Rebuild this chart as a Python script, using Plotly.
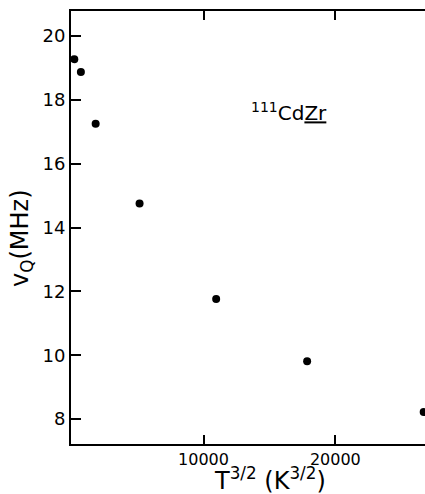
import plotly.graph_objects as go

# Data
t32 = [200, 700, 1820, 5150, 10960, 17860, 26700]          # T^{3/2} (K^{3/2})
nuQ = [19.27, 18.87, 17.25, 14.75, 11.76, 9.81, 8.22]      # nu_Q (MHz)

x_ticks = [10000, 20000]
x_tick_labels = ["10000", "20000"]
y_ticks = [8, 10, 12, 14, 16, 18, 20]
y_tick_labels = ["8", "10", "12", "14", "16", "18", "20"]

FONT = "DejaVu Sans, Arial, sans-serif"

fig = go.Figure()
fig.add_trace(go.Scatter(
    x=t32, y=nuQ, mode="markers",
    marker=dict(color="black", size=8, line=dict(width=0)),
    showlegend=False,
))

fig.add_annotation(
    x=0.616, y=0.767, xref="paper", yref="paper",
    text="<sup>111</sup>Cd<u>Zr</u>", showarrow=False,
    font=dict(family=FONT, size=20, color="black"),
    xanchor="center", yanchor="middle",
)
# x-axis title
fig.add_annotation(
    x=(270 - 71) / 354, y=(444 - 479) / 433, xref="paper", yref="paper",
    text="T<sup>3/2</sup> (K<sup>3/2</sup>)", showarrow=False,
    font=dict(family=FONT, size=24, color="black"),
    xanchor="center", yanchor="middle",
)
# y-axis title
fig.add_annotation(
    x=(21 - 71) / 354, y=(444 - 238) / 433, xref="paper", yref="paper",
    text="v<sub>Q</sub>(MHz)", showarrow=False, textangle=-90,
    font=dict(family=FONT, size=24, color="black"),
    xanchor="center", yanchor="middle",
)

fig.update_layout(
    width=425, height=494,
    margin=dict(l=71, r=0, t=11, b=50),
    paper_bgcolor="white", plot_bgcolor="white",
    font=dict(family=FONT, color="black"),
    xaxis=dict(
        range=[-50, 26800],
        tickvals=x_ticks, ticktext=x_tick_labels,
        ticks="inside", ticklen=9, tickwidth=1.5, tickcolor="black",
        showline=True, linecolor="black", linewidth=2, mirror="ticks",
        showgrid=False, zeroline=False,
        tickfont=dict(family=FONT, size=16, color="black"),
    ),
    yaxis=dict(
        range=[7.22, 20.78],
        tickvals=y_ticks, ticktext=y_tick_labels,
        ticks="inside", ticklen=10, tickwidth=1.5, tickcolor="black",
        showline=True, linecolor="black", linewidth=2, mirror=False,
        showgrid=False, zeroline=False,
        tickfont=dict(family=FONT, size=18, color="black"),
    ),
)

fig.write_html("out.html")
